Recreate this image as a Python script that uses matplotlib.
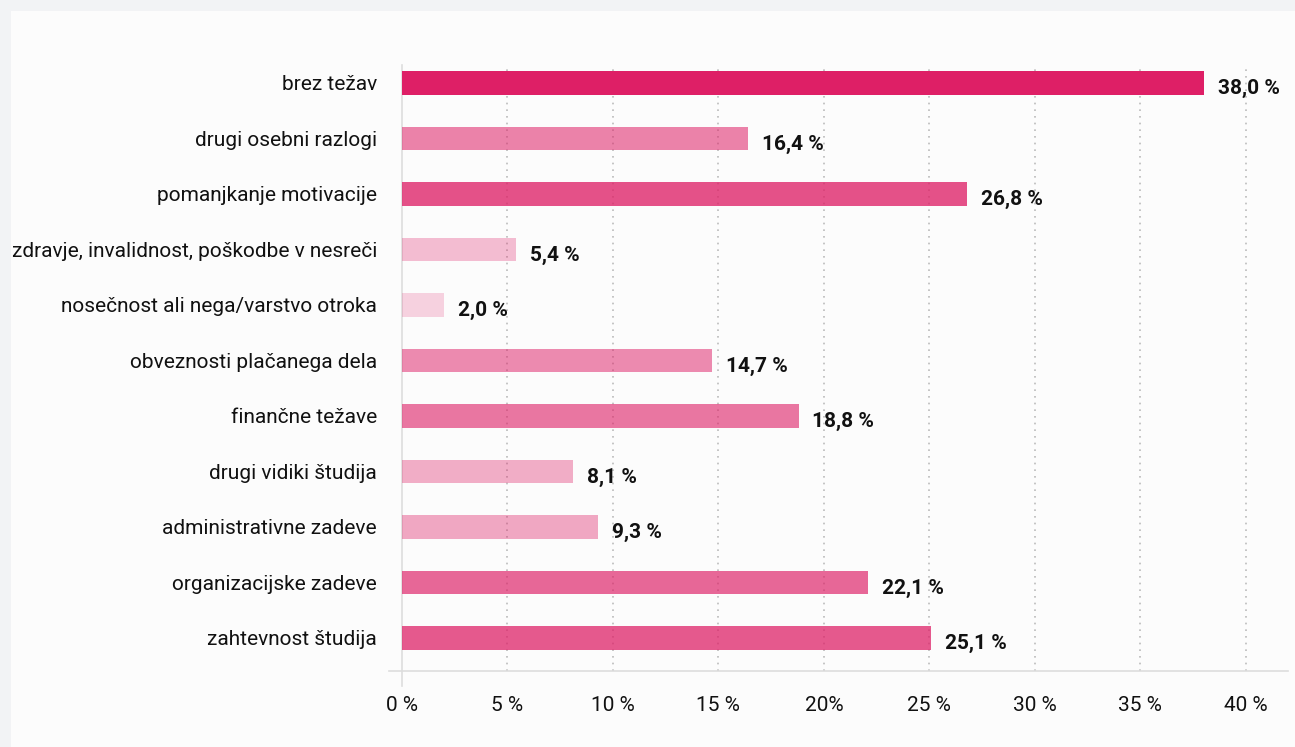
import matplotlib
matplotlib.use('Agg')
import matplotlib.pyplot as plt
from matplotlib.patches import Rectangle
from matplotlib.lines import Line2D
from matplotlib.colors import to_rgba

plt.rcParams['font.family'] = ['DejaVu Sans Condensed', 'Roboto', 'DejaVu Sans']

categories = ['brez težav', 'drugi osebni razlogi', 'pomanjkanje motivacije',
              'zdravje, invalidnost, poškodbe v nesreči',
              'nosečnost ali nega/varstvo otroka', 'obveznosti plačanega dela',
              'finančne težave', 'drugi vidiki študija', 'administrativne zadeve',
              'organizacijske zadeve', 'zahtevnost študija']
values = [38.0, 16.4, 26.8, 5.4, 2.0, 14.7, 18.8, 8.1, 9.3, 22.1, 25.1]
xticks = [0, 5, 10, 15, 20, 25, 30, 35, 40]
xticklabels = ['0 %', '5 %', '10 %', '15 %', '20%', '25 %', '30 %', '35 %', '40 %']

base = '#DE1F66'
vmax = max(values)

fig = plt.figure(figsize=(12.95, 7.47), dpi=100)
fig.patch.set_facecolor('#F2F3F5')
fig.add_artist(Rectangle((11 / 1295, 0), 1, 1 - 11 / 747, transform=fig.transFigure,
                         facecolor='#FCFCFC', edgecolor='none', zorder=0))

ax = fig.add_axes([402 / 1295, 76 / 747, 886 / 1295, 606 / 747])
ax.set_facecolor('none')

ypos = list(range(len(categories)))
colors = [to_rgba(base, 0.12 + 0.88 * (v / vmax) ** 0.85) for v in values]
ax.barh(ypos, values, height=0.43, color=colors, zorder=3)

for y, v in zip(ypos, values):
    ax.annotate(f'{v:.1f} %'.replace('.', ','), xy=(v, y), xytext=(10, -4),
                textcoords='offset points', ha='left', va='center',
                fontsize=15, fontweight='bold', color='#111111')

ax.set_xlim(0, 42)
ax.set_ylim(10.595, -0.324)
ax.set_yticks(ypos)
ax.set_yticklabels(categories, fontsize=15, color='#111111')
ax.set_xticks(xticks)
ax.set_xticklabels(xticklabels, fontsize=15, color='#111111')
ax.tick_params(axis='both', length=0)
ax.tick_params(axis='y', pad=18)
ax.tick_params(axis='x', pad=18)

for x in xticks[1:]:
    ax.axvline(x, color='#BBBBBB', linestyle=(0, (1, 3)), linewidth=1.2, zorder=1)

for s in ['top', 'right']:
    ax.spines[s].set_visible(False)
for s in ['left', 'bottom']:
    ax.spines[s].set_color('#DDDDDD')
    ax.spines[s].set_linewidth(1.2)

# little extensions of the axis lines past the corner
ax.add_line(Line2D([0, 0], [0, -0.025], transform=ax.transAxes, color='#DDDDDD',
                   linewidth=1.2, clip_on=False))
ax.add_line(Line2D([0, -0.015], [0, 0], transform=ax.transAxes, color='#DDDDDD',
                   linewidth=1.2, clip_on=False))

fig.savefig('out.png', dpi=100, facecolor=fig.get_facecolor())
